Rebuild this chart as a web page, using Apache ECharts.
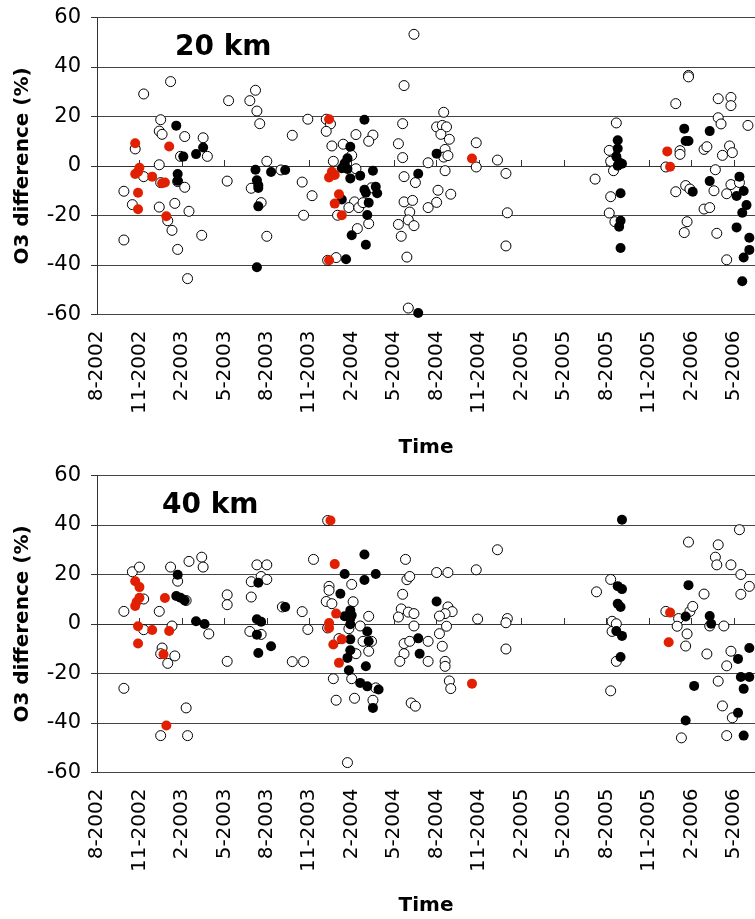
<!DOCTYPE html>
<html>
<head>
<meta charset="utf-8">
<title>O3 difference</title>
<script src="https://cdn.jsdelivr.net/npm/echarts@6/dist/echarts.min.js"></script>
<style>
    html, body { margin: 0; padding: 0; background: #fff; }
    #chart { width: 755px; height: 919px; }
</style>
</head>
<body>
<div id="chart"></div>
<script>
// x = months since Aug 2002, y = O3 difference (%)

// 20 km
var open20 = [[22.4,53.2],[5.2,34.1],[3.3,29.1],[9.3,26.4],[10.8,26.4],[11.2,30.6],[11.3,22.2],[11.5,17.1],[21.7,32.5],[21.6,17.1],[4.5,18.7],[4.4,14.1],[4.6,12.8],[6.2,11.9],[7.5,11.4],[7.8,3.9],[5.9,3.9],[2.7,6.9],[3.3,-4.3],[4.4,0.5],[4.5,-6.7],[5.7,-6.3],[6.2,-8.6],[1.9,-10.2],[2.5,-15.6],[4.4,-16.6],[5.5,-15.1],[6.5,-18.3],[5.0,-22.1],[5.3,-26.0],[1.9,-29.9],[5.7,-33.7],[7.4,-28.0],[6.4,-45.5],[12.0,1.9],[9.2,-6.1],[10.9,-9.0],[11.6,-14.8],[12.0,-28.4],[13.0,-1.6],[14.9,18.9],[13.8,12.4],[14.5,-6.5],[15.2,-12.0],[14.6,-19.9],[16.2,18.9],[16.5,17.0],[16.2,14.0],[16.6,8.1],[17.4,8.8],[16.7,1.9],[18.3,12.7],[19.5,12.5],[19.2,10.0],[18.0,4.3],[18.3,-1.1],[18.2,-14.5],[17.8,-16.8],[18.5,-16.8],[18.8,-14.8],[17.0,-19.9],[18.4,-25.3],[19.2,-23.3],[19.4,-8.8],[16.9,-37.0],[16.3,-38.1],[21.3,9.0],[21.6,3.4],[21.7,-4.3],[22.5,-6.7],[21.7,-14.5],[22.3,-13.9],[22.1,-18.6],[22.0,-21.8],[22.4,-24.1],[21.3,-23.6],[21.5,-28.4],[21.9,-36.8],[22.0,-57.4],
    [24.5,21.7],[24.0,15.8],[24.4,16.4],[24.7,15.8],[24.3,12.8],[24.9,10.8],[24.6,6.7],[24.5,3.6],[24.8,4.2],[23.4,1.3],[24.6,-1.9],[24.1,-9.8],[25.0,-11.4],[24.0,-14.7],[23.4,-16.8],[26.8,9.4],[26.8,-0.4],[28.3,2.4],[28.9,-3.0],[29.0,-18.9],[28.9,-32.3],[35.2,-5.3],[36.7,17.4],[36.2,6.3],[36.3,1.9],[36.5,-1.9],[36.3,-12.4],[36.2,-19.0],[36.6,-22.5],[40.9,25.2],[41.8,36.6],[41.8,36.0],[41.2,6.2],[41.2,4.7],[40.2,-0.4],[41.6,-7.9],[41.9,-9.3],[40.9,-10.4],[41.7,-22.5],[41.5,-26.9],[42.9,6.7],[43.1,7.8],[43.9,19.5],[44.1,17.0],[43.9,27.2],[44.8,27.7],[44.8,24.4],[44.7,8.1],[44.9,5.4],[44.2,4.3],[43.7,-1.5],[43.6,-10.0],[44.5,-11.2],[44.8,-7.5],[45.4,-6.7],[42.9,-17.4],[43.3,-16.8],[43.8,-27.2],[44.5,-37.9],[46.0,16.4]];
var black20 = [[5.6,16.3],[6.1,3.8],[7.0,4.8],[7.5,7.5],[5.7,-3.2],[5.7,-6.0],[11.2,-1.5],[12.3,-2.4],[13.3,-1.6],[11.3,-5.8],[11.4,-8.9],[11.4,-7.8],[11.4,-16.3],[11.3,-40.9],[18.9,18.7],[17.9,7.8],[17.7,3.1],[17.5,1.1],[17.3,-0.9],[17.7,-1.2],[17.9,-5.0],[18.6,-3.9],[19.5,-1.9],[18.9,-9.6],[19.0,-10.8],[19.7,-8.4],[19.8,-11.0],[19.2,-14.8],[19.1,-19.8],[17.3,-13.5],[18.0,-28.0],[19.0,-31.8],[17.6,-37.7],[22.7,-3.1],[22.7,-59.4],
    [24.0,5.0],[36.8,10.4],[36.8,7.1],[36.7,3.8],[36.9,1.5],[36.8,0.1],[37.1,0.9],[37.0,-11.0],[37.0,-22.1],[36.9,-24.5],[37.0,-33.1],[41.5,15.1],[41.6,10.1],[41.8,10.1],[43.3,14.1],[42.1,-10.4],[43.3,-6.1],[45.4,-4.3],[45.7,-10.1],[45.2,-12.1],[45.9,-15.8],[45.6,-18.9],[45.2,-24.8],[46.1,-29.0],[46.1,-33.9],[45.7,-37.0],[45.6,-46.6]];
var red20 = [[2.7,9.2],[3.0,-0.7],[2.9,-2.3],[2.7,-3.2],[3.9,-4.3],[2.9,-10.8],[2.9,-17.5],[5.1,7.9],[4.8,-6.7],[4.6,-7.0],[4.9,-20.3],[16.4,18.9],[16.6,-2.3],[16.4,-4.6],[16.8,-3.6],[17.1,-11.4],[16.8,-15.2],[17.3,-19.9],[16.4,-38.1],[26.5,3.0],[40.3,5.9],[40.5,-0.3]];

// 40 km
var open40 = [[1.9,5.1],[1.9,-26.0],[2.5,21.1],[3.0,23.0],[3.3,10.1],[3.3,-2.3],[4.4,5.1],[5.3,-0.8],[4.6,-9.7],[4.5,-12.0],[5.0,-15.9],[5.5,-12.9],[5.2,23.0],[5.7,17.3],[6.3,9.5],[6.3,-33.9],[4.5,-45.1],[6.4,-45.1],[6.5,25.3],[7.4,27.0],[7.5,23.0],[7.9,-4.0],[9.2,11.8],[9.2,7.8],[9.2,-15.1],[10.9,10.9],[10.9,17.1],[11.3,23.9],[12.0,23.9],[11.6,19.2],[12.0,18.0],[10.8,-3.0],[11.6,-4.2],[13.1,6.9],[13.8,-15.2],[14.6,-15.2],[14.5,5.0],[14.9,-2.2],[15.3,26.1],[16.3,41.8],[16.4,15.2],[16.4,13.6],[16.2,9.1],[16.6,8.2],[16.3,-1.6],[17.1,-5.9],[16.7,-22.1],[16.9,-30.8],[18.0,16.0],[18.1,9.0],[18.3,-12.0],[18.6,-0.8],[17.8,-1.9],[18.0,-22.1],[18.2,-30.0],[19.2,3.1],[18.8,-7.0],[19.4,-7.0],[19.2,-11.0],[19.5,-30.8],[19.7,-25.8],[17.7,-56.0],[21.8,26.1],[21.9,17.9],[22.1,19.2],[21.6,12.0],[21.5,6.1],[21.3,2.8],[22.0,4.8],[22.4,4.2],[22.4,-0.8],[21.7,-7.9],[22.1,-7.0],[21.7,-12.0],[21.4,-15.1],[22.2,-31.9],[22.5,-33.2],
    [23.4,-7.0],[23.4,-15.1],[24.0,20.8],[24.8,20.8],[24.8,6.9],[25.1,5.0],[24.6,4.2],[24.2,3.2],[24.7,-0.9],[24.2,-3.9],[24.4,-9.0],[24.6,-15.1],[24.6,-17.1],[24.9,-23.0],[25.0,-26.1],[26.8,21.9],[26.9,2.0],[28.3,30.0],[29.0,2.2],[28.9,0.5],[28.9,-10.1],[35.3,13.0],[36.3,18.0],[36.4,1.1],[36.4,-3.0],[36.7,0.1],[36.7,-15.1],[36.3,-27.0],[40.2,5.1],[41.1,2.2],[41.0,-0.9],[41.9,5.1],[42.1,7.1],[41.7,-4.0],[41.6,-8.9],[41.8,33.1],[41.3,-46.0],[42.9,12.1],[43.1,-12.1],[43.3,-0.8],[44.3,-0.8],[43.9,32.0],[43.7,27.0],[43.8,23.9],[44.8,23.9],[45.4,38.1],[45.5,20.0],[45.5,12.0],[46.1,15.2],[43.9,-23.1],[44.2,-33.1],[44.9,-37.9],[44.5,-16.9],[44.8,-11.0],[44.5,-45.1]];
var black40 = [[5.7,19.9],[5.6,11.3],[5.9,10.6],[6.2,9.5],[7.0,1.1],[7.6,0.0],[11.4,16.7],[11.3,1.9],[11.6,0.9],[11.3,-4.3],[11.4,-11.7],[12.3,-9.0],[13.3,6.9],[18.9,28.1],[18.9,17.8],[19.7,20.2],[17.5,20.2],[17.2,12.2],[17.9,5.5],[17.5,3.1],[17.9,2.2],[17.9,-0.1],[18.0,3.5],[17.9,-6.2],[17.9,-10.6],[17.7,-13.7],[17.8,-18.7],[19.1,-3.0],[19.2,-7.0],[19.0,-17.1],[18.6,-23.8],[19.1,-25.2],[19.9,-26.5],[19.5,-33.9],
    [22.7,-5.8],[22.8,-12.0],[24.0,9.1],[36.8,15.3],[37.1,14.1],[36.8,8.2],[37.0,6.9],[36.7,-2.8],[37.1,-4.8],[37.0,-13.3],[37.1,42.1],[41.8,15.7],[41.6,3.0],[42.2,-25.0],[41.6,-39.0],[43.3,3.2],[43.4,0.1],[46.1,-9.7],[45.3,-14.1],[45.5,-21.4],[46.1,-21.4],[45.7,-26.2],[45.3,-35.9],[45.7,-45.1]];
var red40 = [[2.7,17.3],[3.0,14.9],[3.0,10.6],[2.8,8.9],[2.7,7.3],[2.9,-0.9],[3.9,-2.4],[2.9,-7.9],[4.8,10.5],[5.1,-2.8],[4.7,-12.2],[4.9,-41.0],[16.5,41.8],[16.8,24.2],[16.9,4.2],[16.4,0.4],[16.4,-1.6],[17.3,-6.2],[16.7,-8.3],[17.1,-15.7],[26.5,-24.1],[40.5,4.6],[40.4,-7.4]];

var panels = ['20 km', '40 km'];
var yTicks = [-60, -40, -20, 0, 20, 40, 60];

var FONT = 'DejaVu Sans, Verdana, sans-serif';

function monthLabel(v) {
    if (v % 3 !== 0) return '';
    var m = (7 + v) % 12 + 1;
    var y = 2002 + Math.floor((7 + v) / 12);
    return m + '-' + y;
}

function xAxisFor(idx) {
    return {
        gridIndex: idx,
        type: 'value',
        min: 0,
        max: 46.5,
        interval: 3,
        name: 'Time',
        nameLocation: 'middle',
        nameGap: 123,
        nameTextStyle: { color: '#000', fontSize: 20, fontWeight: 'bold', fontFamily: FONT },
        axisLine: { lineStyle: { color: '#333', width: 1 } },
        axisTick: { inside: true, length: 6, lineStyle: { color: '#333' } },
        axisLabel: {
            rotate: 90, interval: 0, margin: 16,
            color: '#000', fontSize: 20, fontFamily: FONT,
            formatter: monthLabel
        },
        splitLine: { show: false }
    };
}

function yAxisFor(idx) {
    return {
        gridIndex: idx,
        type: 'value',
        min: yTicks[0],
        max: yTicks[yTicks.length - 1],
        interval: 20,
        name: 'O3 difference (%)',
        nameLocation: 'middle',
        nameGap: 64,
        nameTextStyle: { color: '#000', fontSize: 20, fontWeight: 'bold', fontFamily: FONT },
        axisLine: { show: true, lineStyle: { color: '#333', width: 1 } },
        axisTick: { show: true, length: 6, lineStyle: { color: '#333' } },
        axisLabel: { margin: 16, color: '#000', fontSize: 21, fontFamily: FONT },
        splitLine: { show: true, lineStyle: { color: '#444', width: 1 } }
    };
}

function dots(name, data, idx, fill, border) {
    return {
        name: name,
        type: 'scatter',
        xAxisIndex: idx,
        yAxisIndex: idx,
        data: data,
        symbol: 'circle',
        symbolSize: 10,
        clip: false,
        itemStyle: { color: fill, borderColor: border, borderWidth: border ? 1 : 0, opacity: 1 },
        emphasis: { disabled: true }
    };
}

var chart = echarts.init(document.getElementById('chart'));
chart.setOption({
    animation: false,
    backgroundColor: '#fff',
    title: [
        { text: panels[0], left: 170, top: 29, textStyle: { fontSize: 28, fontWeight: 'bold', color: '#000', fontFamily: FONT } },
        { text: panels[1], left: 157, top: 487, textStyle: { fontSize: 28, fontWeight: 'bold', color: '#000', fontFamily: FONT } }
    ],
    grid: [
        { left: 97, top: 17.5, width: 662, height: 297 },
        { left: 97, top: 475.5, width: 662, height: 297 }
    ],
    xAxis: [xAxisFor(0), xAxisFor(1)],
    yAxis: [yAxisFor(0), yAxisFor(1)],
    series: [
        dots('open20', open20, 0, '#fff', '#000'),
        dots('black20', black20, 0, '#000', null),
        dots('red20', red20, 0, '#e02000', null),
        dots('open40', open40, 1, '#fff', '#000'),
        dots('black40', black40, 1, '#000', null),
        dots('red40', red40, 1, '#e02000', null)
    ]
});
</script>
</body>
</html>
